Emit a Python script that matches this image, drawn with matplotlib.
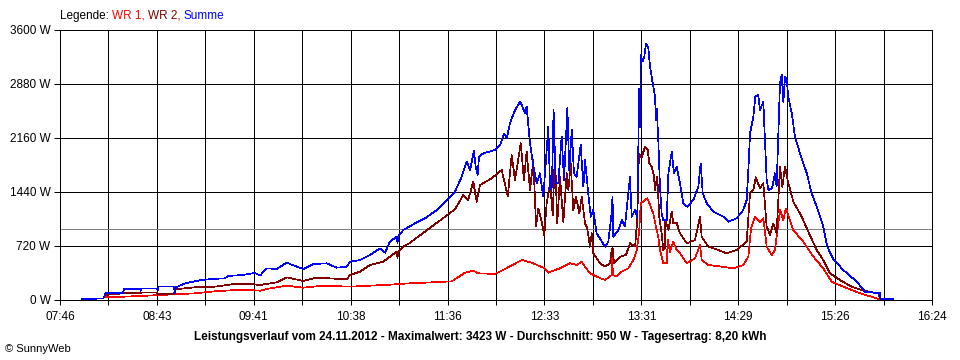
import matplotlib
if matplotlib.get_backend() != 'agg':
    matplotlib.use('agg')
import matplotlib.pyplot as plt
import numpy as np

plt.rcParams['font.family'] = ['Liberation Sans', 'DejaVu Sans']

# times are minutes of the day, power in W
wr1_t = [493.1, 503.4, 513.5, 534.3, 546.2, 558.1, 570.0, 578.9, 584.8, 590.7,
         600.7, 610.5, 622.4, 638.3, 650.2, 662.0, 673.5, 682.8, 698.7, 706.6,
         711.5, 714.5, 724.4, 730.3, 740.3, 746.2, 753.1, 756.1, 760.0, 763.0,
         768.9, 772.9, 775.9, 777.9, 780.8, 784.8, 789.8, 793.7, 793.9, 794.5,
         796.7, 799.7, 803.6, 806.6, 808.6, 809.5, 810.1, 811.0, 813.5, 814.9,
         816.5, 818.4, 820.0, 821.4, 822.4, 824.4, 826.5, 827.0, 828.4, 830.3,
         832.3, 834.3, 838.3, 843.2, 846.2, 847.2, 851.1, 859.1, 866.0, 871.9,
         874.9, 876.5, 878.8, 881.8, 883.8, 885.8, 888.8, 890.7, 893.7, 895.7,
         897.1, 899.6, 901.6, 907.5, 913.5, 919.4, 924.4, 931.3, 941.2, 949.1,
         953.1]
wr1_w = [36, 44, 53, 76, 89, 116, 133, 133, 124, 155,
         191, 164, 191, 178, 191, 204, 222, 231, 249, 364,
         391, 356, 347, 413, 533, 498, 431, 364, 400, 422,
         489, 467, 511, 444, 356, 311, 267, 333, 578, 333,
         311, 378, 422, 533, 667, 800, 933, 1289, 1333, 1356,
         1267, 1156, 978, 844, 667, 489, 489, 800, 644, 778,
         667, 622, 489, 556, 733, 533, 467, 444, 422, 467,
         578, 956, 1111, 1044, 1089, 711, 600, 667, 1200, 1067,
         1222, 1067, 933, 778, 578, 422, 244, 178, 89, 36,
         9]

wr2_t = [492.7, 503.4, 513.5, 514.5, 523.4, 524.2, 533.7, 534.3, 546.2, 558.1,
         568.0, 578.9, 584.8, 594.7, 600.7, 610.5, 618.5, 636.3, 638.3, 644.2,
         650.2, 658.1, 662.0, 666.0, 666.5, 667.0, 669.9, 673.5, 682.8, 694.7,
         700.6, 705.6, 708.5, 711.5, 713.5, 715.5, 722.4, 728.4, 732.0, 734.3,
         736.3, 739.7, 741.6, 743.2, 745.2, 747.2, 748.8, 750.1, 752.1, 753.7,
         755.1, 757.1, 758.7, 760.0, 761.4, 763.0, 765.0, 767.0, 768.0, 769.4,
         770.9, 772.5, 774.5, 775.9, 777.9, 779.2, 780.8, 781.9, 782.8, 786.8,
         789.8, 792.7, 793.7, 794.3, 795.1, 798.7, 802.2, 804.6, 807.6, 808.9,
         809.9, 811.5, 813.5, 815.1, 816.1, 817.5, 818.9, 819.4, 820.8, 822.0,
         823.4, 824.4, 825.4, 825.6, 827.4, 829.4, 830.3, 832.3, 834.3, 838.3,
         843.2, 846.2, 847.2, 851.1, 857.1, 862.0, 868.0, 873.9, 875.9, 877.9,
         879.3, 881.8, 883.8, 885.8, 887.8, 889.7, 891.7, 893.7, 895.1, 896.7,
         898.6, 899.6, 901.6, 906.6, 910.5, 915.5, 919.4, 923.4, 929.3, 935.3,
         943.2, 952.1, 953.1]
wr2_w = [67, 89, 89, 102, 102, 76, 76, 142, 169, 178,
         209, 213, 200, 236, 302, 253, 298, 276, 333, 378,
         467, 511, 578, 644, 560, 650, 711, 756, 911, 1111,
         1209, 1400, 1333, 1578, 1311, 1533, 1622, 1733, 1378, 1933,
         1600, 2089, 1600, 1978, 1467, 1867, 978, 1222, 1044, 867,
         1289, 1550, 1133, 1956, 1022, 1644, 1044, 1689, 1467, 1822,
         1200, 1378, 1156, 1378, 1022, 956, 711, 889, 622, 489,
         444, 489, 667, 689, 489, 578, 600, 756, 711, 1067,
         1956, 1900, 2044, 2000, 1822, 1778, 1644, 1467, 1644, 1111,
         889, 667, 700, 1067, 933, 1178, 1022, 1031, 889, 756,
         800, 1111, 844, 711, 667, 622, 667, 778, 1422, 1467,
         1636, 1489, 1556, 978, 867, 1022, 889, 1778, 1511, 1778,
         1556, 1489, 1311, 1111, 911, 667, 533, 356, 267, 187,
         124, 89, 22]

sum_t = [478.9, 491.8, 493.1, 503.4, 504.0, 513.5, 514.0, 514.5, 523.4, 524.2,
         524.5, 533.7, 534.3, 534.8, 540.3, 550.2, 556.1, 564.0, 565.8, 573.9,
         578.9, 582.0, 584.8, 588.8, 594.7, 600.7, 604.6, 610.5, 616.5, 624.4,
         630.4, 636.3, 638.3, 644.2, 650.2, 656.1, 659.1, 662.0, 666.0, 666.5,
         667.0, 669.9, 673.5, 676.9, 682.8, 690.7, 696.7, 700.6, 704.6, 707.6,
         709.6, 711.9, 712.9, 714.1, 714.9, 717.5, 724.4, 727.4, 729.9, 731.4,
         733.3, 736.3, 739.3, 740.3, 742.2, 743.2, 745.2, 747.2, 749.2, 751.1,
         753.1, 756.1, 757.1, 758.2, 759.2, 760.5, 762.0, 764.0, 765.4, 767.4,
         768.5, 770.0, 771.3, 772.9, 775.3, 776.9, 777.9, 779.8, 781.3, 782.8,
         784.8, 789.8, 791.7, 793.7, 794.2, 794.7, 797.7, 799.7, 801.6, 804.6,
         805.6, 807.6, 808.9, 810.1, 810.5, 811.0, 812.1, 813.1, 814.1, 815.5,
         816.5, 818.1, 819.5, 820.0, 820.5, 821.4, 822.4, 823.4, 824.4, 826.4,
         827.4, 829.4, 830.7, 832.3, 834.3, 836.3, 838.6, 842.2, 845.2, 846.6,
         847.8, 850.2, 854.1, 860.0, 863.0, 868.0, 871.9, 873.9, 874.9, 875.9,
         877.9, 879.0, 880.8, 881.8, 883.8, 884.4, 885.8, 886.8, 889.0, 890.7,
         891.7, 893.7, 894.7, 895.7, 896.7, 897.7, 898.6, 900.7, 902.6, 905.6,
         909.6, 912.5, 915.5, 919.4, 921.8, 925.4, 931.3, 939.3, 944.2, 953.1,
         953.5, 960.8]
sum_w = [13, 20, 97, 97, 147, 147, 124, 155, 155, 133,
         178, 178, 93, 169, 222, 267, 280, 289, 320, 333,
         350, 360, 325, 422, 413, 498, 462, 413, 480, 489,
         431, 444, 511, 533, 600, 689, 631, 778, 844, 760,
         850, 933, 978, 1022, 1089, 1213, 1356, 1444, 1644, 1844,
         1733, 1991, 1778, 1667, 1911, 1956, 2000, 2067, 2222, 2156,
         2356, 2533, 2644, 2600, 2489, 2578, 2089, 1778, 1556, 1689,
         1378, 2311, 1467, 1500, 2533, 1560, 1556, 2178, 1600, 2556,
         1733, 2267, 1689, 1644, 2067, 1511, 1867, 1422, 1111, 1200,
         889, 711, 778, 1156, 1378, 844, 933, 1067, 978, 1644,
         1111, 1200, 1100, 2822, 2300, 3267, 3178, 3244, 3422, 3356,
         3111, 2889, 2711, 2400, 2550, 2133, 1511, 1156, 1067, 1067,
         1689, 1978, 1689, 1778, 1556, 1289, 1244, 1333, 1511, 1822,
         1422, 1289, 1178, 1111, 1044, 1089, 1200, 1333, 1733, 2222,
         2444, 2711, 2733, 2533, 2644, 2311, 1600, 1467, 1490, 1689,
         1511, 2889, 3000, 2644, 2978, 2933, 2711, 2489, 2178, 1956,
         1689, 1422, 1244, 978, 711, 542, 400, 244, 111, 89,
         9, 9]

avg_w = 950
t_start, t_end = 466, 984
x_labels = ['07:46', '08:43', '09:41', '10:38', '11:36',
            '12:33', '13:31', '14:29', '15:26', '16:24']
y_ticks = [0, 720, 1440, 2160, 2880, 3600]

fig = plt.figure(figsize=(9.6, 3.6), dpi=100)
ax = fig.add_axes([60 / 960, 60 / 360, 872 / 960, 270 / 360])

lw = 0.72  # one pixel
dlw = 0.5  # data lines, non antialiased
ax.plot(wr1_t, wr1_w, color='#ff0000', lw=dlw, antialiased=False, zorder=3)
ax.plot(wr2_t, wr2_w, color='#800000', lw=dlw, antialiased=False, zorder=4)
ax.plot(sum_t, sum_w, color='#0000ff', lw=dlw, antialiased=False, zorder=5)
ax.axhline(avg_w, color='#808080', lw=lw, antialiased=False, zorder=2)

ax.set_xlim(t_start, t_end)
ax.set_ylim(0, 3600)

grid_x = np.linspace(t_start, t_end, 19)
ax.set_xticks(grid_x[::2])
ax.set_xticks(grid_x[1::2], minor=True)
ax.set_xticklabels(x_labels)
ax.set_yticks(y_ticks)
ax.set_yticklabels([f'{v} W' for v in y_ticks])

ax.grid(which='both', axis='x', color='black', lw=lw, zorder=1)
ax.grid(which='major', axis='y', color='black', lw=lw, zorder=1)
ax.set_axisbelow(True)
ax.tick_params(axis='x', which='both', direction='out', length=3.6,
               width=lw, pad=4, labelsize=8.5)
ax.tick_params(axis='y', which='major', direction='out', length=4.3,
               width=lw, pad=2.5, labelsize=8.5)
for s in ax.spines.values():
    s.set_linewidth(lw)
    s.set_color('black')

# legend line at the top
t0 = fig.text(60 / 960, 1 - 16 / 360, 'Legende: ', fontsize=8.5,
              va='center', ha='left')
prev = t0
for txt, col in [('WR 1, ', '#ff0000'), ('WR 2, ', '#800000'), ('Summe', '#0000ff')]:
    prev = ax.annotate(txt, xy=(1, 0), xycoords=prev, va='bottom', ha='left',
                       fontsize=8.5, color=col)

fig.text(480 / 960, 1 - 337 / 360,
         'Leistungsverlauf vom 24.11.2012 - Maximalwert: 3423 W - '
         'Durchschnitt: 950 W - Tagesertrag: 8,20 kWh',
         fontsize=8.5, fontweight='bold', ha='center', va='center')
fig.text(5 / 960, 1 - 349 / 360, '\u00a9 SunnyWeb', fontsize=8,
         ha='left', va='center')

fig.savefig('out.png', dpi=100)
